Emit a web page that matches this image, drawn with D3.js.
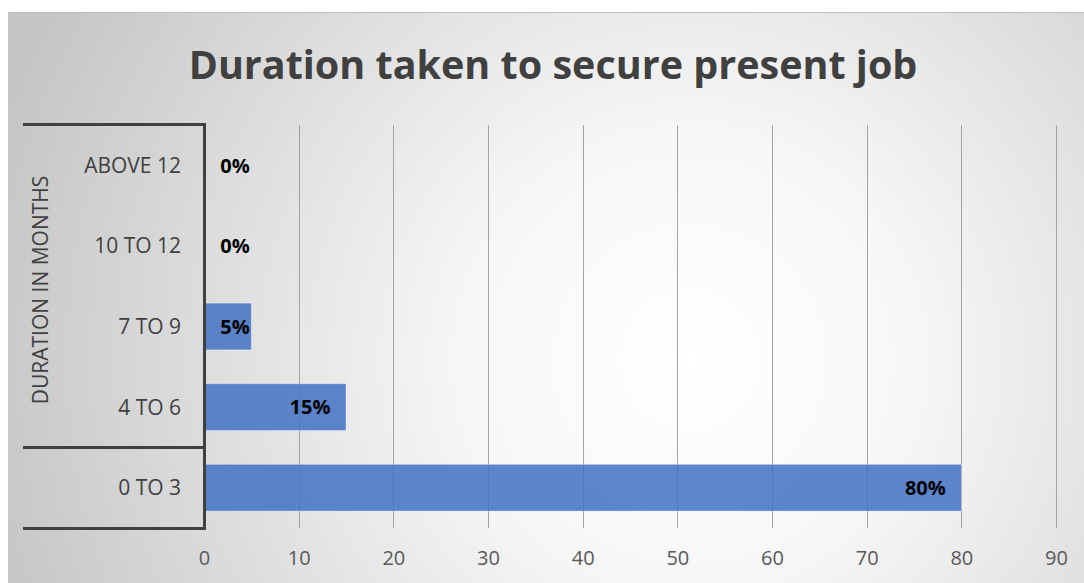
<!DOCTYPE html>
<html>
<head>
<meta charset="utf-8">
<script src="https://cdn.jsdelivr.net/npm/d3@7/dist/d3.min.js"></script>
<style>
  html, body { margin: 0; padding: 0; background: #ffffff; }
  svg { display: block; }
</style>
</head>
<body>
<svg id="chart" width="1084" height="583"></svg>
<script>
// Survey result: months needed to secure the present job
const categories = ["ABOVE 12", "10 TO 12", "7 TO 9", "4 TO 6", "0 TO 3"];
const values = [0, 0, 5, 15, 80];
const valueLabels = ["0%", "0%", "5%", "15%", "80%"];
const xTicks = [0, 10, 20, 30, 40, 50, 60, 70, 80, 90];
const chartTitle = "Duration taken to secure present job";
const axisTitle = "DURATION IN MONTHS";

const svg = d3.select("#chart");
const font = "'Open Sans', 'Noto Sans', sans-serif";

// background panel with soft radial shading
const defs = svg.append("defs");
const grad = defs.append("radialGradient")
  .attr("id", "bg")
  .attr("gradientUnits", "userSpaceOnUse")
  .attr("cx", 690).attr("cy", 360).attr("r", 740);
grad.append("stop").attr("offset", "0").attr("stop-color", "#ffffff");
grad.append("stop").attr("offset", "0.3").attr("stop-color", "#f7f7f7");
grad.append("stop").attr("offset", "1").attr("stop-color", "#c4c4c4");

svg.append("rect")
  .attr("x", 8).attr("y", 12).attr("width", 1090).attr("height", 580)
  .attr("fill", "url(#bg)");
svg.append("line")
  .attr("x1", 8).attr("x2", 1084).attr("y1", 12.5).attr("y2", 12.5)
  .attr("stroke", "#bdbdbd").attr("stroke-width", 1);
svg.append("line")
  .attr("x1", 8.5).attr("x2", 8.5).attr("y1", 12).attr("y2", 583)
  .attr("stroke", "#c8c8c8").attr("stroke-width", 1);

// scales
const x = d3.scaleLinear().domain([0, 90]).range([204, 1056]);
const y = d3.scaleBand().domain(categories).range([125, 528])
  .paddingInner(0.42).paddingOuter(0.21);

// vertical gridlines
svg.append("g")
  .selectAll("line")
  .data(xTicks.slice(1))
  .join("line")
  .attr("x1", d => Math.round(x(d)) + 0.5)
  .attr("x2", d => Math.round(x(d)) + 0.5)
  .attr("y1", 125).attr("y2", 528)
  .attr("stroke", "#a3a3a3").attr("stroke-width", 1);

// x axis tick labels
const xAxis = d3.axisBottom(x).tickValues(xTicks).tickSize(0).tickPadding(0);
const xg = svg.append("g").attr("transform", "translate(0,528)").call(xAxis);
xg.select(".domain").remove();
xg.selectAll("text")
  .attr("y", 37)
  .attr("dy", "0")
  .attr("font-family", font)
  .attr("font-size", 20)
  .attr("fill", "#595959");

// bars
svg.append("g")
  .selectAll("rect")
  .data(categories)
  .join("rect")
  .attr("x", x(0))
  .attr("y", c => y(c))
  .attr("width", (c, i) => x(values[i]) - x(0))
  .attr("height", y.bandwidth())
  .attr("fill", "#4472c4")
  .attr("fill-opacity", 0.86)
  .attr("stroke", "#ffffff")
  .attr("stroke-opacity", 0.35)
  .attr("stroke-width", 1)
  .attr("display", (c, i) => values[i] > 0 ? null : "none");

// value labels
svg.append("g")
  .selectAll("text")
  .data(categories)
  .join("text")
  .attr("x", (c, i) => Math.max(x(values[i]) - 36, x(0) + 31))
  .attr("y", c => y(c) + y.bandwidth() / 2)
  .attr("dy", "0.36em")
  .attr("text-anchor", "middle")
  .attr("font-family", font)
  .attr("font-weight", "bold")
  .attr("font-size", 20)
  .attr("fill", "#000000")
  .text((c, i) => valueLabels[i]);

// category labels
svg.append("g")
  .selectAll("text")
  .data(categories)
  .join("text")
  .attr("x", 181)
  .attr("y", c => y(c) + y.bandwidth() / 2)
  .attr("dy", "0.36em")
  .attr("text-anchor", "end")
  .attr("font-family", font)
  .attr("font-size", 21)
  .attr("fill", "#404040")
  .text(c => c);

// category axis: vertical line and group separators
const axisColor = "#404040";
svg.append("line")
  .attr("x1", 204.5).attr("x2", 204.5)
  .attr("y1", 123).attr("y2", 530)
  .attr("stroke", axisColor).attr("stroke-width", 3);
const splitY = y(categories[3]) + y.bandwidth() + y.step() * 0.21;
[124.5, splitY, 528.5].forEach(yy => {
  svg.append("line")
    .attr("x1", 23).attr("x2", 206)
    .attr("y1", yy).attr("y2", yy)
    .attr("stroke", axisColor).attr("stroke-width", 3);
});

// axis title, centred over the upper group
const titleY = (124.5 + splitY) / 2 + 4;
svg.append("text")
  .attr("transform", `translate(40,${titleY}) rotate(-90)`)
  .attr("dy", "0.36em")
  .attr("text-anchor", "middle")
  .attr("font-family", font)
  .attr("font-size", 21)
  .attr("fill", "#404040")
  .text(axisTitle);

// chart title
svg.append("text")
  .attr("x", 553)
  .attr("y", 79)
  .attr("text-anchor", "middle")
  .attr("font-family", font)
  .attr("font-weight", "bold")
  .attr("font-size", 39.5)
  .attr("fill", "#404040")
  .text(chartTitle);
</script>
</body>
</html>
